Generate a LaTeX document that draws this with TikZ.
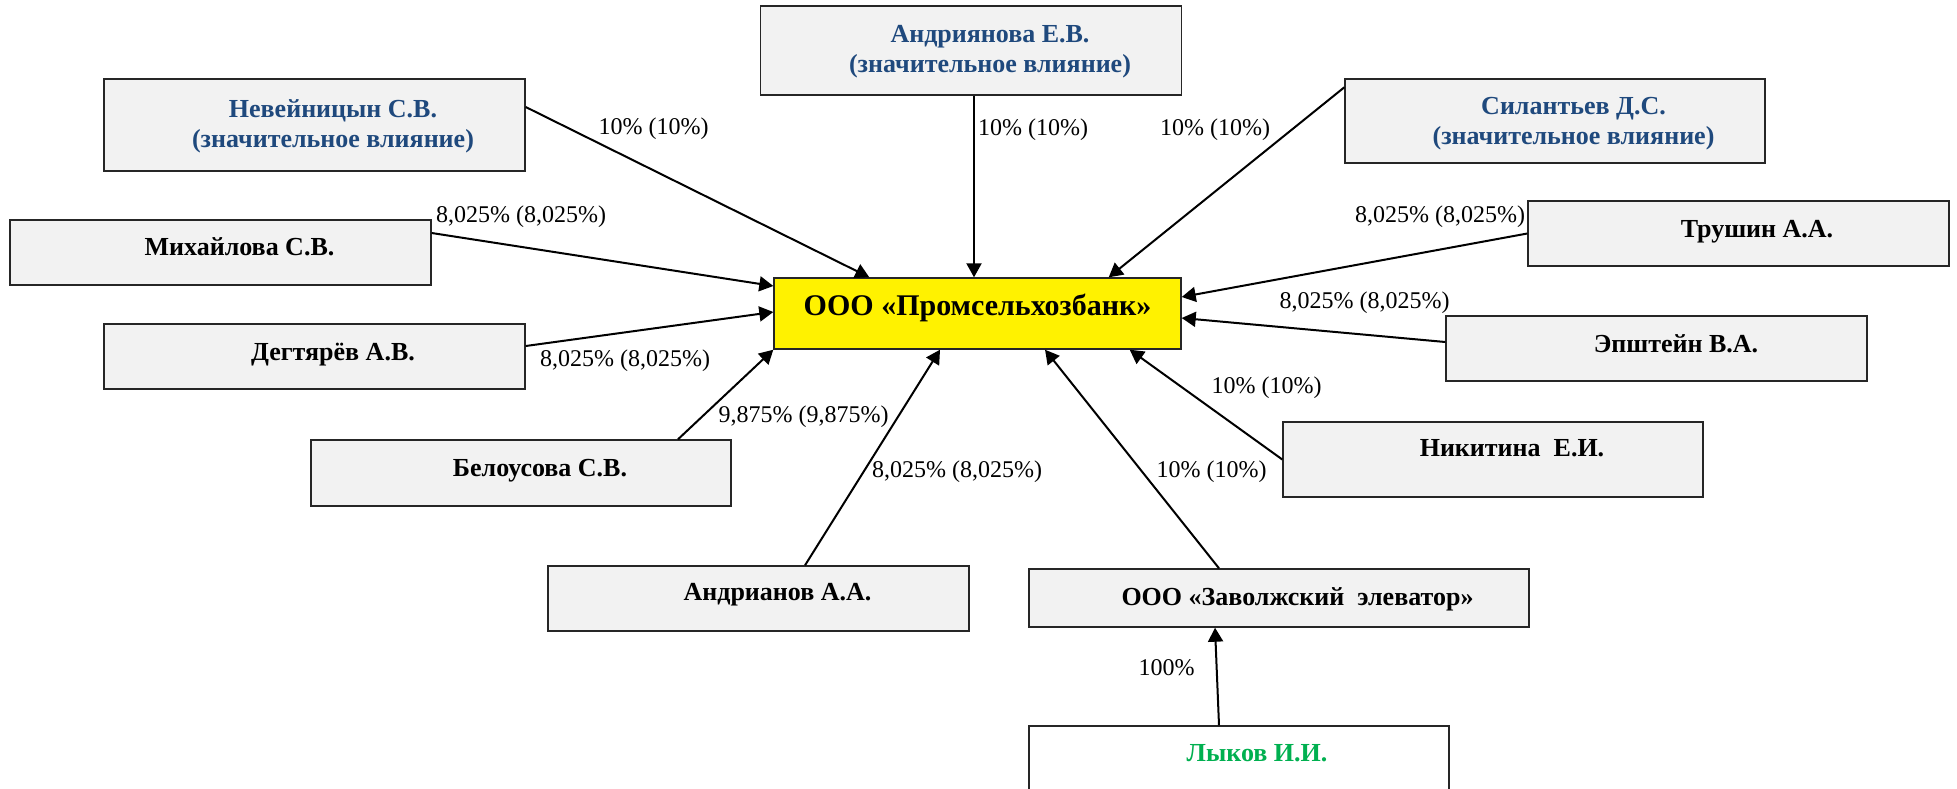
\documentclass[tikz,border=0pt]{standalone}
\usepackage{fontspec}
\setmainfont{Liberation Serif}
\usetikzlibrary{arrows.meta}
\definecolor{boxgray}{HTML}{F2F2F2}
\definecolor{infblue}{HTML}{1F497D}
\definecolor{ownergreen}{HTML}{00B050}
\begin{document}
\begin{tikzpicture}[x=0.5pt,y=-0.5pt,
  holder/.style={draw=black!85,line width=0.7pt,fill=boxgray,inner sep=0pt,minimum width=210.5pt,minimum height=32.5pt},
  who/.style={font=\fontsize{13}{15}\selectfont\bfseries,align=center,inner sep=0pt},
  share/.style={font=\fontsize{12}{14}\selectfont,inner sep=0pt,anchor=base},
  link/.style={line width=1pt,-{Triangle[length=7pt,width=7.5pt]}}]
 \useasboundingbox (0,0) rectangle (1957,788);
 % the bank
 \node[holder,fill=yellow,minimum width=203.5pt,minimum height=35.5pt,font=\fontsize{15}{17}\selectfont\bfseries,text height=8pt,text depth=6.5pt] (bank) at (977.5,313.5) {ООО «Промсельхозбанк»};
 % holders
 \node[holder,minimum height=44.5pt] (andr) at (971,50.5) {};
 \node[holder,minimum height=46pt] (nev) at (314.5,125) {};
 \node[holder,minimum width=210pt,minimum height=42pt] (sil) at (1555,121) {};
 \node[holder] (mih) at (220.5,252.5) {};
 \node[holder] (deg) at (314.5,356.5) {};
 \node[holder] (tru) at (1738.5,233.5) {};
 \node[holder] (eps) at (1656.5,348.5) {};
 \node[holder,minimum width=210pt,minimum height=37.5pt] (nik) at (1493,459.5) {};
 \node[holder,minimum width=210pt,minimum height=33pt] (bel) at (521,473) {};
 \node[holder] (adn) at (758.5,598.5) {};
 \node[holder,minimum width=250pt,minimum height=29pt] (zav) at (1279,598) {};
 \node[holder,fill=white,minimum width=210pt,minimum height=47pt] (lyk) at (1239,773) {};
 % names
 \node[who,text=infblue] (andrT) at (990,52) {Андриянова Е.В.\\(значительное влияние)};
 \node[who,text=infblue] (nevT) at (333,126) {Невейницын С.В.\\(значительное влияние)};
 \node[who,text=infblue] (silT) at (1573.5,124) {Силантьев Д.С.\\(значительное влияние)};
 \node[who,anchor=base] (mihT) at (239.5,255) {Михайлова С.В.};
 \node[who,anchor=base] (degT) at (333,360) {Дегтярёв А.В.};
 \node[who,anchor=base] (truT) at (1757,237) {Трушин А.А.};
 \node[who,anchor=base] (epsT) at (1676,352) {Эпштейн В.А.};
 \node[who,anchor=base] (nikT) at (1512,456) {Никитина\ \ Е.И.};
 \node[who,anchor=base] (belT) at (540,476) {Белоусова С.В.};
 \node[who,anchor=base] (adnT) at (777.5,600.5) {Андрианов А.А.};
 \node[who,anchor=base] (zavT) at (1297.5,605) {ООО «Заволжский\ \ элеватор»};
 \node[who,anchor=base,text=ownergreen] (lykT) at (1257,761) {Лыков И.И.};
 % shares
 \draw[link] ([xshift=1.5pt]andr.south) -- ([xshift=-1.75pt]bank.north);
 \draw[link] ([yshift=9pt]nev.east) -- ([xshift=48pt]bank.north west);
 \draw[link] ([yshift=-4.5pt]sil.north west) -- ([xshift=-36.5pt]bank.north east);
 \draw[link] ([yshift=9.75pt]mih.east) -- ([yshift=13.75pt]bank.west);
 \draw[link] ([yshift=5.25pt]deg.east) -- ([yshift=0.75pt]bank.west);
 \draw[link] (tru.west) -- ([yshift=8.25pt]bank.east);
 \draw[link] ([yshift=3.25pt]eps.west) -- ([yshift=-2.25pt]bank.east);
 \draw[link] (nik.west) -- ([xshift=-26pt]bank.south east);
 \draw[link] ([xshift=-30pt]zav.north) -- ([xshift=33.75pt]bank.south);
 \draw[link] ([xshift=23.25pt]adn.north) -- ([xshift=-18.75pt]bank.south);
 \draw[link] ([xshift=78.5pt]bel.north) -- (bank.south west);
 \draw[link] ([xshift=-10pt]lyk.north) -- ([xshift=-32pt]zav.south);
 \node[share] (nevP) at (653.5,134) {10\% (10\%)};
 \node[share] (andrP) at (1033,135) {10\% (10\%)};
 \node[share] (silP) at (1215,135) {10\% (10\%)};
 \node[share] (mihP) at (521,222) {8,025\% (8,025\%)};
 \node[share] (degP) at (625,366) {8,025\% (8,025\%)};
 \node[share] (truP) at (1440,222) {8,025\% (8,025\%)};
 \node[share] (epsP) at (1364.5,308) {8,025\% (8,025\%)};
 \node[share] (nikP) at (1266.5,393) {10\% (10\%)};
 \node[share] (belP) at (803.5,422) {9,875\% (9,875\%)};
 \node[share] (adnP) at (957,477) {8,025\% (8,025\%)};
 \node[share] (zavP) at (1211.5,477) {10\% (10\%)};
 \node[share] (lykP) at (1166.5,675) {100\%};
\end{tikzpicture}
\end{document}
